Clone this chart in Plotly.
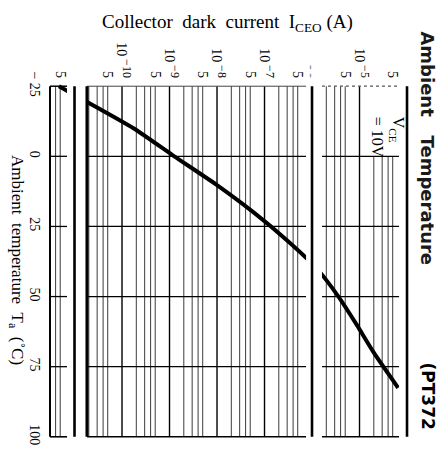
import numpy as np
import plotly.graph_objects as go

# Collector dark current I_CEO vs. ambient temperature (V_CE = 10 V)
temperature_c = [-25, -20, -10, 0, 10, 20, 30, 40, 50, 60, 70, 80, 82.6]
dark_current_a = [4.7e-12, 1.58e-11, 1.74e-10, 1.26e-9, 9.5e-9, 5.9e-8, 3.0e-7,
                  1.26e-6, 3.6e-6, 8.7e-6, 2.0e-5, 5.1e-5, 6.5e-5]

temp_ticks = [-25, 0, 25, 50, 75, 100]
temp_tick_labels = ["\u2212 25", "0", "25", "50", "75", "100"]

current_ticks = [5e-12, 5e-11, 1e-10, 5e-10, 1e-9, 5e-9, 1e-8, 5e-8, 1e-7,
                 5e-7, 1e-6, 5e-6, 1e-5, 5e-5]


def decade_label(exp):
    return "10\u2009<sup><span style='font-size:12px'>\u2212%d</span></sup>" % exp


current_tick_labels = ["5", "5", decade_label(10), "5", decade_label(9),
                       "5", decade_label(8), "5", decade_label(7), "5",
                       "<span style='color:#8a8a8a'>- -</span>", "5",
                       decade_label(5), "5"]

# ---- layout constants -------------------------------------------------
X_RANGE = [-11.558, -3.937]          # log10(A)
Y_RANGE = [101.5, -26.5]             # deg C, top to bottom
T_TOP, T_BOT = -25, 100
# printed strips of the log grid (the sheet is cut between them)
strips = [(3.05e-12, 6.95e-12), (1.83e-11, 7.5e-7), (1.62e-6, 6.8e-5)]
label_box_start = 1.02e-5            # grid left open above 0 degC for the V_CE note
SERIF = "Liberation Serif, Times New Roman, serif"


def in_strip(v):
    return any(lo < v < hi for lo, hi in strips)


shapes = []
# vertical log grid: 1..5 of every decade
for e in range(-12, -4):
    for m in (1, 2, 3, 4, 5):
        v = m * 10.0 ** e
        if not in_strip(v):
            continue
        y0 = 0 if v > label_box_start else T_TOP
        shapes.append(dict(type="line", xref="x", yref="y", x0=v, x1=v, y0=y0, y1=T_BOT,
                           line=dict(color="black" if m == 1 else "#3c3c3c",
                                     width=1.4 if m == 1 else 1.0),
                           layer="below"))
# horizontal temperature grid and strip borders
for i, (lo, hi) in enumerate(strips):
    for t in (0, 25, 50, 75):
        shapes.append(dict(type="line", xref="x", yref="y", x0=lo, x1=hi, y0=t, y1=t,
                           line=dict(color="black", width=1.3), layer="below"))
    top_style = [dict(color="black", width=1.5),
                 dict(color="#444", width=1.0),
                 dict(color="#555", width=1.2, dash="dot")][i]
    shapes.append(dict(type="line", xref="x", yref="y", x0=lo, x1=hi, y0=T_TOP, y1=T_TOP,
                       line=top_style, layer="below"))
    shapes.append(dict(type="line", xref="x", yref="y", x0=lo, x1=hi, y0=T_BOT, y1=T_BOT,
                       line=dict(color="black", width=1.6), layer="below"))

# blank paper between the strips (hides the curve there)
x_lo_full = 10 ** X_RANGE[0]
x_hi_full = 10 ** X_RANGE[1]
edges = [x_lo_full] + [v for s in strips for v in s] + [x_hi_full]
for a, b in zip(edges[0::2], edges[1::2]):
    shapes.append(dict(type="rect", xref="x", yref="y", x0=a, x1=b,
                       y0=Y_RANGE[1], y1=Y_RANGE[0], fillcolor="white",
                       line=dict(width=0), layer="above"))

# heavy rules: decades that fall in the cuts, plus left edges of the strips
for e in range(-12, -3):
    v = 10.0 ** e
    if x_lo_full < v < x_hi_full and not in_strip(v):
        shapes.append(dict(type="line", xref="x", yref="y", x0=v, x1=v, y0=T_TOP, y1=T_BOT,
                           line=dict(color="black", width=2.6), layer="above"))
shapes.append(dict(type="line", xref="x", yref="y", x0=strips[0][0], x1=strips[0][0],
                   y0=T_TOP, y1=T_BOT, line=dict(color="black", width=2.0), layer="above"))
shapes.append(dict(type="line", xref="x", yref="y", x0=strips[1][0], x1=strips[1][0],
                   y0=T_TOP, y1=T_BOT, line=dict(color="black", width=3.0), layer="above"))

fig = go.Figure()
fig.add_trace(go.Scatter(x=dark_current_a, y=temperature_c, mode="lines",
                         line=dict(color="black", width=4, shape="spline", smoothing=0.6),
                         hoverinfo="skip", showlegend=False))

# V_CE note sits in the open box of the right strip (annotation x is log10 on a log axis)
vce_note_x = np.log10(2.84e-5)

annotations = [
    dict(text="Collector\u00a0\u00a0dark\u00a0\u00a0current\u00a0\u00a0I<sub>CEO</sub>\u00a0(A)",
         xref="paper", yref="paper", x=0.497, y=1.165, xanchor="center", yanchor="middle",
         showarrow=False, font=dict(family=SERIF, size=19, color="black")),
    dict(text="Ambient\u00a0\u00a0temperature\u00a0\u00a0T<sub>a</sub>\u00a0\u00a0(\u02daC)",
         xref="paper", yref="paper", x=-0.088, y=0.504, xanchor="center", yanchor="middle",
         textangle=90, showarrow=False, font=dict(family=SERIF, size=17, color="black")),
    dict(text="V<sub>CE</sub><br>= 10V", xref="x", yref="y", x=vce_note_x, y=-7,
         xanchor="center", yanchor="middle", align="left", textangle=90, showarrow=False,
         xshift=7, font=dict(family=SERIF, size=16, color="black")),
    dict(text="<b>Ambient\u00a0\u00a0\u00a0Temperature</b>", xref="paper", yref="paper",
         x=1.0497, y=0.815, xanchor="center", yanchor="middle", textangle=90,
         showarrow=False, font=dict(family="DejaVu Sans", size=18, color="#1a1a1a")),
    dict(text="<b>(PT372</b>", xref="paper", yref="paper",
         x=1.0497, y=0.124, xanchor="center", yanchor="middle", textangle=90,
         showarrow=False, font=dict(family="DejaVu Sans", size=17, color="black")),
]

fig.update_layout(
    width=442, height=457, autosize=False,
    margin=dict(l=48, r=32, t=82, b=12),
    paper_bgcolor="white", plot_bgcolor="white",
    showlegend=False,
    shapes=shapes,
    annotations=annotations,
    xaxis=dict(type="log", range=X_RANGE, side="top", showgrid=False, zeroline=False,
               showline=False, ticks="", tickvals=current_ticks, ticktext=current_tick_labels,
               tickangle=90, ticklabelstandoff=1,
               tickfont=dict(family=SERIF, size=14, color="black")),
    yaxis=dict(range=Y_RANGE, autorange=False, showgrid=False, zeroline=False,
               showline=False, ticks="", tickvals=temp_ticks, ticktext=temp_tick_labels,
               tickangle=90, ticklabelstandoff=3,
               tickfont=dict(family=SERIF, size=14, color="black")),
)

fig.write_html("out.html")
